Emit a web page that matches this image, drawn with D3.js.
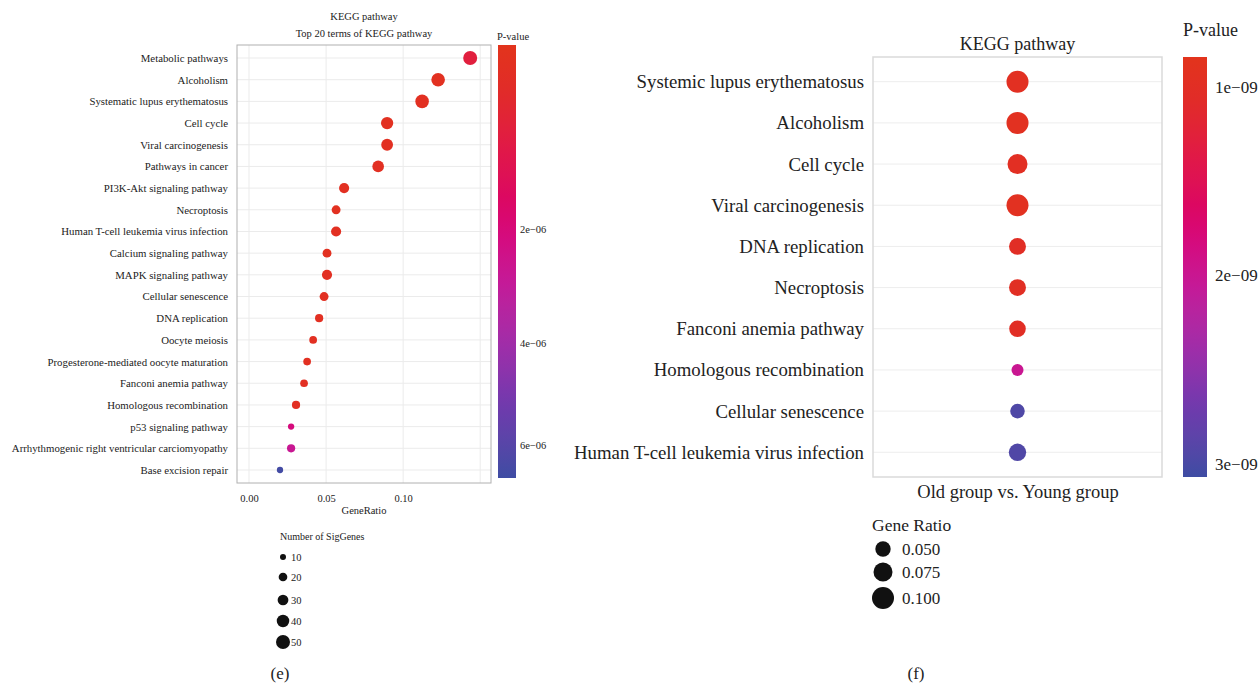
<!DOCTYPE html>
<html>
<head>
<meta charset="utf-8">
<script src="https://cdn.jsdelivr.net/npm/d3@7"></script>
<style>
  body { margin: 0; background: #fff; }
  svg text { font-family: "Liberation Serif", "DejaVu Serif", serif; fill: #222; }
</style>
</head>
<body>
<div id="svgcontainer"></div>
<script>
// ---- panel (e): top 20 KEGG terms ----
var leftTerms = ["Metabolic pathways", "Alcoholism", "Systematic lupus erythematosus", "Cell cycle",
  "Viral carcinogenesis", "Pathways in cancer", "PI3K-Akt signaling pathway", "Necroptosis",
  "Human T-cell leukemia virus infection", "Calcium signaling pathway", "MAPK signaling pathway",
  "Cellular senescence", "DNA replication", "Oocyte meiosis", "Progesterone-mediated oocyte maturation",
  "Fanconi anemia pathway", "Homologous recombination", "p53 signaling pathway",
  "Arrhythmogenic right ventricular carciomyopathy", "Base excision repair"];
var leftRatio = [0.1435, 0.1227, 0.1123, 0.0896, 0.0896, 0.0838, 0.0617, 0.0565, 0.0565, 0.0506,
  0.0506, 0.0487, 0.0455, 0.0416, 0.0377, 0.0357, 0.0305, 0.0273, 0.0273, 0.0201];
var leftCount = [50, 47, 47, 39, 36, 35, 27, 21, 27, 21, 27, 21, 18, 16, 16, 16, 18, 11, 18, 11];
var leftP = [9.5e-7, 2.0e-7, 2.5e-7, 2.0e-7, 2.2e-7, 2.6e-7, 2.4e-7, 2.0e-7, 2.3e-7, 2.1e-7,
  2.6e-7, 2.4e-7, 2.2e-7, 2.5e-7, 2.3e-7, 2.6e-7, 2.8e-7, 2.1e-6, 2.75e-6, 6.5e-6];
var leftXTicks = [0, 0.05, 0.10];
var leftXGrid = [0, 0.05, 0.10, 0.15];
var leftPTicks = [2e-6, 4e-6, 6e-6];
var leftSizeBreaks = [10, 20, 30, 40, 50];

// ---- panel (f): old vs young ----
var rightTerms = ["Systemic lupus erythematosus", "Alcoholism", "Cell cycle", "Viral carcinogenesis",
  "DNA replication", "Necroptosis", "Fanconi anemia pathway", "Homologous recombination",
  "Cellular senescence", "Human T-cell leukemia virus infection"];
var rightRatio = [0.100, 0.100, 0.083, 0.100, 0.060, 0.060, 0.058, 0.031, 0.045, 0.063];
var rightP = [0.95e-9, 0.92e-9, 0.97e-9, 0.93e-9, 1.0e-9, 0.98e-9, 1.0e-9, 2.0e-9, 2.96e-9, 2.95e-9];
var rightGroup = ["Old group vs. Young group"];
var rightPTicks = [1e-9, 2e-9, 3e-9];
var rightSizeBreaks = [0.050, 0.075, 0.100];

var width = 1260, height = 684;
var svg = d3.select("div#svgcontainer").append("svg")
    .attr("width", width).attr("height", height);
svg.append("rect").attr("width", width).attr("height", height).attr("fill", "#fff");

// shared red -> blue gradient
var colorRamp = d3.scaleLinear()
    .domain([0, 0.12, 0.25, 0.36, 0.45, 0.55, 0.68, 0.82, 1])
    .range(["#e2341c", "#e12a2a", "#e0174a", "#dc0663", "#d40c80", "#c41a98", "#a42ca8", "#7338ae", "#3e4ca3"])
    .interpolate(d3.interpolateLab);

// ggplot-style labels: 2e-06 with a minus sign
function fmtP(d) {
  var parts = d3.format(".0e")(d).split("e");
  var ex = +parts[1];
  return parts[0] + "e" + (ex < 0 ? "\u2212" : "+") + d3.format("02d")(Math.abs(ex));
}

function colorbar(id, x0, y0, w, h) {
  var grad = svg.append("defs").append("linearGradient").attr("id", id)
      .attr("x1", 0).attr("y1", 0).attr("x2", 0).attr("y2", 1);
  d3.range(0, 1.0001, 0.05).forEach(function(t){
    grad.append("stop").attr("offset", t).attr("stop-color", colorRamp(t));
  });
  svg.append("rect").attr("x", x0).attr("y", y0).attr("width", w).attr("height", h)
     .attr("fill", "url(#" + id + ")");
}

// ================= left panel =================
var L = {left: 237, right: 491, top: 45, bottom: 483};
var x = d3.scaleLinear().domain([-0.0078, 0.157]).range([L.left, L.right]);
var y = d3.scalePoint().domain(leftTerms).range([L.top, L.bottom]).padding(0.6);
var size = d3.scaleSqrt().domain([10, 50]).range([3, 7]);
var barL = {x: 498, w: 18, top: 45, bottom: 478};
var pBarL = d3.scaleLinear().domain([1e-8, 2e-6, 4e-6, 6e-6, 6.6e-6])
    .range([barL.top, 229, 343, 445, barL.bottom]).clamp(true);
function colL(p) { return colorRamp((pBarL(p) - barL.top) / (barL.bottom - barL.top)); }

var gL = svg.append("g");
gL.append("g").selectAll("line").data(leftXGrid).enter().append("line")
  .attr("x1", x).attr("x2", x).attr("y1", L.top).attr("y2", L.bottom)
  .attr("stroke", "#ebebeb");
gL.append("g").selectAll("line").data(leftTerms).enter().append("line")
  .attr("x1", L.left).attr("x2", L.right).attr("y1", y).attr("y2", y)
  .attr("stroke", "#ebebeb");
gL.append("rect").attr("x", L.left).attr("y", L.top)
  .attr("width", L.right - L.left).attr("height", L.bottom - L.top)
  .attr("fill", "none").attr("stroke", "#b0b0b0");

var ax = gL.append("g").attr("transform", "translate(0," + L.bottom + ")")
  .call(d3.axisBottom(x).tickValues(leftXTicks).tickFormat(d3.format(".2f")).tickSize(0).tickPadding(12));
ax.select(".domain").remove();
ax.selectAll("text").style("font-size", "10.5px").style("font-family", null);

var ay = gL.append("g").attr("transform", "translate(" + L.left + ",0)")
  .call(d3.axisLeft(y).tickSize(0).tickPadding(9));
ay.select(".domain").remove();
ay.selectAll("text").style("font-size", "10.8px").style("font-family", null);

gL.selectAll(".dot").data(leftTerms).enter().append("circle")
  .attr("class", "dot")
  .attr("cx", function(d, i){ return x(leftRatio[i]); })
  .attr("cy", function(d){ return y(d); })
  .attr("r", function(d, i){ return size(leftCount[i]); })
  .attr("fill", function(d, i){ return colL(leftP[i]); });

gL.append("text").attr("x", 364).attr("y", 20).attr("text-anchor", "middle")
  .style("font-size", "10.5px").text("KEGG pathway");
gL.append("text").attr("x", 364).attr("y", 37).attr("text-anchor", "middle")
  .style("font-size", "10.5px").text("Top 20 terms of KEGG pathway");
gL.append("text").attr("x", 364).attr("y", 514).attr("text-anchor", "middle")
  .style("font-size", "10.5px").text("GeneRatio");

colorbar("gradL", barL.x, barL.top, barL.w, barL.bottom - barL.top);
gL.append("text").attr("x", 497).attr("y", 40).style("font-size", "10.5px").text("P-value");
gL.selectAll(".ptl").data(leftPTicks).enter().append("text")
  .attr("x", barL.x + barL.w + 4).attr("y", function(d){ return pBarL(d); })
  .attr("dy", "0.35em").style("font-size", "10.5px").text(fmtP);

gL.append("text").attr("x", 280).attr("y", 540).style("font-size", "10px").text("Number of SigGenes");
var legY = [557, 577, 600, 621, 642];
var legL = gL.selectAll(".legl").data(leftSizeBreaks).enter().append("g")
  .attr("transform", function(d, i){ return "translate(283," + legY[i] + ")"; });
legL.append("circle").attr("r", size).attr("fill", "#111");
legL.append("text").attr("x", 8).attr("dy", "0.35em").style("font-size", "10.5px").text(function(d){ return d; });

// ================= right panel =================
var R = {left: 873, right: 1162, top: 57, bottom: 477};
var xR = d3.scalePoint().domain(rightGroup).range([R.left, R.right]).padding(0.5);
var yR = d3.scalePoint().domain(rightTerms).range([R.top, R.bottom]).padding(0.6);
var sizeR = d3.scaleSqrt().domain([0.05, 0.10]).range([7.7, 11]);
var barR = {x: 1183, w: 24, top: 57, bottom: 477};
var pBarR = d3.scaleLinear().domain([0.84e-9, 3.07e-9]).range([barR.top, barR.bottom]).clamp(true);
function colR(p) { return colorRamp((pBarR(p) - barR.top) / (barR.bottom - barR.top)); }

var gR = svg.append("g");
gR.append("g").selectAll("line").data(rightTerms).enter().append("line")
  .attr("x1", R.left).attr("x2", R.right).attr("y1", yR).attr("y2", yR)
  .attr("stroke", "#ededed");
gR.append("rect").attr("x", R.left).attr("y", R.top)
  .attr("width", R.right - R.left).attr("height", R.bottom - R.top)
  .attr("fill", "none").attr("stroke", "#dadada").attr("stroke-width", 1.5);

var ayR = gR.append("g").attr("transform", "translate(" + R.left + ",0)")
  .call(d3.axisLeft(yR).tickSize(0).tickPadding(9));
ayR.select(".domain").remove();
ayR.selectAll("text").style("font-size", "18.8px").style("font-family", null);

var axR = gR.append("g").attr("transform", "translate(0," + R.bottom + ")")
  .call(d3.axisBottom(xR).tickSize(0).tickPadding(8));
axR.select(".domain").remove();
axR.selectAll("text").style("font-size", "18.5px").style("font-family", null);

gR.selectAll(".dot").data(rightTerms).enter().append("circle")
  .attr("class", "dot")
  .attr("cx", xR(rightGroup[0]))
  .attr("cy", function(d){ return yR(d); })
  .attr("r", function(d, i){ return sizeR(rightRatio[i]); })
  .attr("fill", function(d, i){ return colR(rightP[i]); });

gR.append("text").attr("x", xR(rightGroup[0])).attr("y", 50).attr("text-anchor", "middle")
  .style("font-size", "18px").text("KEGG pathway");

colorbar("gradR", barR.x, barR.top, barR.w, barR.bottom - barR.top);
gR.append("text").attr("x", 1183).attr("y", 36).style("font-size", "18px").text("P-value");
gR.selectAll(".ptr").data(rightPTicks).enter().append("text")
  .attr("x", barR.x + barR.w + 8).attr("y", function(d){ return pBarR(d); })
  .attr("dy", "0.35em").style("font-size", "17px").text(fmtP);

gR.append("text").attr("x", 872).attr("y", 531).style("font-size", "17.5px").text("Gene Ratio");
var legRY = [549, 572, 598];
var legR = gR.selectAll(".legr").data(rightSizeBreaks).enter().append("g")
  .attr("transform", function(d, i){ return "translate(883," + legRY[i] + ")"; });
legR.append("circle").attr("r", sizeR).attr("fill", "#111");
legR.append("text").attr("x", 19).attr("dy", "0.35em").style("font-size", "17px").text(d3.format(".3f"));

// panel letters
svg.append("text").attr("x", 280).attr("y", 679).attr("text-anchor", "middle")
  .style("font-size", "17px").text("(e)");
svg.append("text").attr("x", 916).attr("y", 679).attr("text-anchor", "middle")
  .style("font-size", "17px").text("(f)");
</script>
</body>
</html>
